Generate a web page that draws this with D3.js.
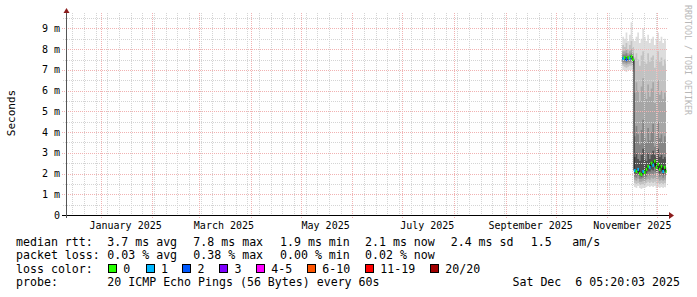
<!DOCTYPE html>
<html><head><meta charset="utf-8">
<script src="https://cdn.jsdelivr.net/npm/d3@7"></script>
<style>html,body{margin:0;padding:0;background:#fff;} svg{display:block;font-family:"DejaVu Sans Mono",monospace;}</style>
</head><body><svg id="c" width="697" height="297"></svg>
<script>
// ---- data ----
const days = ["2025-11-10","2025-11-11","2025-11-12","2025-11-13","2025-11-14","2025-11-15","2025-11-16",
"2025-11-17","2025-11-18","2025-11-19","2025-11-20","2025-11-21","2025-11-22","2025-11-23","2025-11-24","2025-11-25","2025-11-26",
"2025-11-27","2025-11-28","2025-11-29","2025-11-30","2025-12-01","2025-12-02","2025-12-03","2025-12-04","2025-12-05","2025-12-06"];
// ping ranks (ms): p1 (min) ... p20 (max)
const p20 = [8.6,8.5,8.8,8.4,8.7,9.3,8.5, 8.4,8.6,8.8,8.3,8.5,9.0,8.6,8.4,8.7,8.3,8.5,8.6,8.2,8.5,8.8,8.4,8.6,8.3,8.5,8.4];
const p18 = [8.2,8.1,8.3,8.0,8.2,8.4,8.1, 7.6,7.8,7.5,7.2,7.7,7.9,7.4,7.3,7.8,7.4,7.6,7.7,7.1,7.5,7.9,7.4,7.6,7.2,7.5,7.3];
const p16 = [7.9,7.9,8.0,7.8,7.9,8.0,7.8, 5.9,6.4,6.0,5.5,6.2,6.6,5.9,5.6,6.3,5.7,6.1,6.4,5.4,5.9,6.5,5.8,6.0,5.6,5.9,5.7];
const p14 = [7.75,7.75,7.8,7.7,7.75,7.8,7.65, 3.8,4.3,3.9,3.4,4.1,4.6,3.7,3.5,4.2,3.6,4.0,4.4,3.3,3.8,4.5,3.7,3.9,3.5,3.8,3.6];
const p12 = [7.62,7.66,7.6,7.66,7.62,7.7,7.56, 2.8,3.0,2.7,2.6,2.9,3.2,2.7,2.6,3.0,2.7,2.9,3.1,2.9,2.8,3.2,2.8,2.9,2.7,2.8,2.7];
const median = [7.55,7.6,7.5,7.6,7.55,7.65,7.5, 2.15,2.1,2.2,2.0,1.95,2.1,2.05,2.2,2.35,2.3,2.5,2.4,2.6,2.3,2.45,2.2,2.35,2.1,2.3,2.1];
const p9  = [7.5,7.5,7.45,7.5,7.5,7.55,7.4, 2.0,1.95,2.05,1.9,1.85,1.95,1.9,2.0,2.1,2.1,2.2,2.15,2.3,2.1,2.2,2.0,2.1,1.95,2.1,1.95];
const p7  = [7.4,7.4,7.35,7.4,7.4,7.45,7.3, 1.85,1.8,1.9,1.75,1.75,1.8,1.75,1.85,1.95,1.9,2.0,1.95,2.05,1.9,2.0,1.85,1.9,1.8,1.9,1.8];
const p5  = [7.3,7.3,7.25,7.3,7.3,7.35,7.2, 1.7,1.65,1.75,1.6,1.6,1.65,1.6,1.7,1.75,1.7,1.8,1.75,1.8,1.7,1.75,1.65,1.7,1.65,1.7,1.65];
const p3  = [7.2,7.15,7.1,7.15,7.2,7.2,7.05, 1.55,1.5,1.55,1.45,1.45,1.5,1.45,1.55,1.6,1.55,1.6,1.55,1.6,1.5,1.55,1.5,1.55,1.5,1.55,1.5];
const p1  = [7.0,6.95,6.9,7.0,7.0,7.0,6.9, 1.35,1.3,1.4,1.3,1.25,1.3,1.3,1.35,1.4,1.35,1.4,1.35,1.4,1.3,1.35,1.3,1.35,1.3,1.35,1.3];
const lossCount = [1,0,2,0,1,0,0, 1,0,1,0,0,1,0,0,0,1,0,1,0,0,0,0,0,1,0,0];
const smokeColors = ["#dddddd","#c2c2c2","#a6a6a6","#858585","#525252"];
const lossLabels = ["0","1","2","3","4-5","6-10","11-19","20/20"];
const lossColors = ["#26ff00","#00b8ff","#0059ff","#7e00ff","#ff00ff","#ff5500","#ff0000","#a10000"];
const yTickValues = [0,1,2,3,4,5,6,7,8,9];
const yTickLabels = ["0","1 m","2 m","3 m","4 m","5 m","6 m","7 m","8 m","9 m"];
const rttStats = ["3.7 ms avg","7.8 ms max","1.9 ms min","2.1 ms now","2.4 ms sd","1.5","am/s"];
const lossStats = ["0.03 % avg","0.38 % max","0.00 % min","0.02 % now"];
const probeText = "20 ICMP Echo Pings (56 Bytes) every 60s";
const stampText = "Sat Dec  6 05:20:03 2025";

// ---- scales ----
const svg = d3.select("#c");
const endT = new Date(Date.UTC(2025,11,6,5,20,3));
const startT = new Date(endT.getTime() - 360*864e5);
const X0 = 66, X1 = 666, YB = 215, YT = 15;
const x = d3.scaleUtc().domain([startT, endT]).range([X0, X1]);
const y = d3.scaleLinear().domain([0, 9.65]).range([YB, YT]);
const parse = d3.utcParse("%Y-%m-%d");
const pts = days.map((d,i)=>({t:parse(d), p1:p1[i],p3:p3[i],p5:p5[i],p7:p7[i],p9:p9[i],p12:p12[i],p14:p14[i],p16:p16[i],p18:p18[i],p20:p20[i],med:median[i],loss:lossCount[i]}));
const ptsEnd = pts.concat([Object.assign({}, pts[pts.length-1], {t:endT})]);

// ---- smoke ----
const bands = [["p1","p20"],["p3","p18"],["p5","p16"],["p7","p14"],["p9","p12"]];
bands.forEach((b,i)=>{
  svg.append("path").datum(ptsEnd)
    .attr("d", d3.area().x(d=>x(d.t)).y0(d=>y(d[b[0]])).y1(d=>y(d[b[1]])).curve(d3.curveStepAfter))
    .attr("fill", smokeColors[i]);
});

// ---- grid ----
const g = svg.append("g").attr("shape-rendering","crispEdges");
const minorCol = "#d4d4d4", majorCol = "#f1b2b2";
d3.utcSunday.range(startT, endT).forEach(t=>{
  const xx = Math.round(x(t))+0.5;
  g.append("line").attr("x1",xx).attr("x2",xx).attr("y1",13).attr("y2",YB+2)
   .attr("stroke",minorCol).attr("stroke-dasharray","1,1");
});
d3.range(0.5, 9.6, 0.5).forEach(v=>{
  if (Number.isInteger(v)) return;
  const yy = Math.round(y(v))+0.5;
  g.append("line").attr("x1",X0-3).attr("x2",X1+2).attr("y1",yy).attr("y2",yy)
   .attr("stroke",minorCol).attr("stroke-dasharray","1,1");
});
d3.utcMonth.range(startT, endT).forEach(t=>{
  const xx = Math.round(x(t))+0.5;
  g.append("line").attr("x1",xx).attr("x2",xx).attr("y1",13).attr("y2",YB+3)
   .attr("stroke",majorCol).attr("stroke-dasharray","1,1");
});
yTickValues.filter(v=>v>0).forEach(v=>{
  const yy = Math.round(y(v))+0.5;
  g.append("line").attr("x1",X0-4).attr("x2",X1+2).attr("y1",yy).attr("y2",yy)
   .attr("stroke",majorCol).attr("stroke-dasharray","1,1");
});

// ---- median ----
svg.append("path").datum(ptsEnd)
  .attr("d", d3.line().x(d=>x(d.t)).y(d=>y(d.med)).curve(d3.curveStepAfter))
  .attr("fill","none").attr("stroke","#111").attr("stroke-width",1);
const lossIdx = n => n===0?0:n===1?1:n===2?2:n===3?3:n<=5?4:n<=10?5:n<=19?6:7;
pts.forEach((d,i)=>{
  const xa = x(d.t), xb = x(ptsEnd[i+1].t);
  svg.append("rect").attr("x",xa).attr("width",Math.max(1,xb-xa)).attr("y",y(d.med)-1.5).attr("height",3)
    .attr("fill", lossColors[lossIdx(d.loss)]);
});

// ---- axes ----
svg.append("line").attr("x1",X0-4).attr("x2",X1+4).attr("y1",YB+0.5).attr("y2",YB+0.5).attr("stroke","#000").attr("shape-rendering","crispEdges");
svg.append("line").attr("x1",X0+0.5).attr("x2",X0+0.5).attr("y1",YB+3).attr("y2",11).attr("stroke","#555").attr("shape-rendering","crispEdges");
svg.append("path").attr("d",`M${X1+3},${YB-3}L${X1+8},${YB+0.5}L${X1+3},${YB+4}Z`).attr("fill","#8b1c1c");
svg.append("path").attr("d",`M${X0-2.5},${13}L${X0+0.5},${8}L${X0+3.5},${13}Z`).attr("fill","#8b1c1c");

// y tick labels
yTickValues.forEach((v,i)=>{
  svg.append("text").attr("x",60).attr("y",y(v)+3.5).attr("text-anchor","end")
    .attr("font-size",10).attr("fill","#000").text(yTickLabels[i]);
});
// x labels (every 2 months, centred mid-month)
d3.utcMonth.every(2).range(startT, endT).forEach(t=>{
  const c = new Date(t.getTime() + 15*864e5);
  svg.append("text").attr("x",x(c)).attr("y",229).attr("text-anchor","middle")
    .attr("font-size",10).attr("fill","#000").text(d3.utcFormat("%B %Y")(t));
});
// y axis title
svg.append("text").attr("transform","translate(14.5,113) rotate(-90)").attr("text-anchor","middle")
  .attr("font-size",11).attr("fill","#000").text("Seconds");
// watermark
svg.append("text").attr("transform","translate(685,5) rotate(90)").attr("font-size",8.3)
  .attr("fill","#b8b8b8").text("RRDTOOL / TOBI OETIKER");

// ---- legend ----
const fs = 11.6;
const cols = [107.3,193.3,280,365,450.7,530.7,572.3];
const L = (xx,yy,t,anchor)=>svg.append("text").attr("x",xx).attr("y",yy).attr("font-size",fs)
   .attr("fill","#000").attr("text-anchor",anchor||"start").style("white-space","pre").text(t);
L(16,245.5,"median rtt:");
rttStats.forEach((s,i)=>L(cols[i],245.5,s));
L(16,259,"packet loss:");
lossStats.forEach((s,i)=>L(cols[i],259,s));
L(16,272.5,"loss color:");
const sqX = [108,145.7,182.3,219.3,256,307,365,430];
lossLabels.forEach((s,i)=>{
  svg.append("rect").attr("x",sqX[i]+0.5).attr("y",264.5).attr("width",8).attr("height",8)
    .attr("fill",lossColors[i]).attr("stroke","#000").attr("stroke-width",1).attr("shape-rendering","crispEdges");
  L(sqX[i]+15.3,272.5,s);
});
L(16,286,"probe:");
L(107.3,286,probeText);
L(680,286,stampText,"end");
</script></body></html>
